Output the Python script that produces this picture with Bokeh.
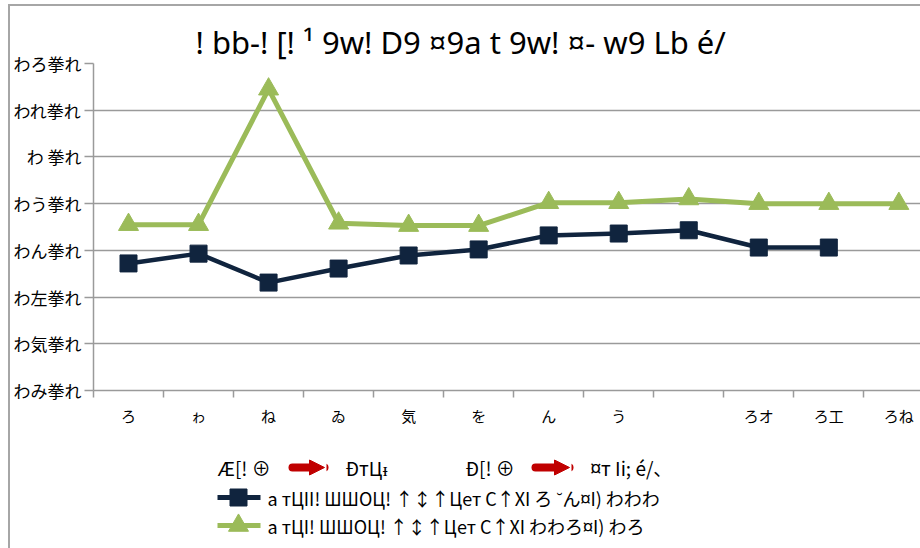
from bokeh.plotting import figure
from bokeh.layouts import column
from bokeh.models import Range1d, FixedTicker, Arrow, NormalHead
from bokeh.core.properties import value
from bokeh.embed import file_html
from bokeh.resources import INLINE

# ---- data -------------------------------------------------------------
months = ["ろ", "ゎ", "ね", "ゐ", "気", "を", "ん", "う", "", "ろオ", "ろ工", "ろね"]
y_tick_values = [0, 1, 2, 3, 4, 5, 6, 7]
y_tick_labels = ["わみ拳れ", "わ気拳れ", "わ左拳れ", "わん拳れ",
                 "わう拳れ", "わ 拳れ", "われ拳れ", "わろ拳れ"]
series_navy = [2.72, 2.93, 2.31, 2.61, 2.89, 3.02, 3.32, 3.36, 3.43, 3.06, 3.06, float("nan")]
series_green = [3.55, 3.55, 6.45, 3.58, 3.53, 3.53, 4.02, 4.02, 4.10, 4.00, 4.00, 4.00]

title_text = "! bb-! [! ¹ 9w! D9 ¤9a t 9w! ¤- w9 Lb é/"
legend_row1 = ["Æ[! ⊕", "ÐтЦᵻ", "Ð[! ⊕", "¤т Ii; é/、"]
legend_navy = "a тЦII! ШШOЦ! ↑↕↑Цет C↑XI ろ ˘ん¤I) わわわ"
legend_green = "a тЦI! ШШOЦ! ↑↕↑Цет C↑XI わわろ¤I) わろ"

# ---- styling ----------------------------------------------------------
NAVY = "#10243e"
GREEN = "#9bbb59"
RED = "#c00000"
GRID = "#9a9a9a"
BORDER = "#a6a6a6"
FONT = "Noto Sans CJK JP"

OX, OY = 10, 6            # inner corner of the chart border
CHART_W, CHART_H = 910, 434
LEFT, TOP, BOTTOM = 83, 57, 50
CAT_W = 70.03

x_pos = [i + 0.5 for i in range(len(months))]

# ---- chart ------------------------------------------------------------
p = figure(width=CHART_W, height=CHART_H, output_backend="svg", toolbar_location=None,
           x_range=Range1d(0, (CHART_W - LEFT) / CAT_W), y_range=Range1d(0, 7),
           min_border_left=LEFT, min_border_right=0,
           min_border_top=TOP, min_border_bottom=BOTTOM)
p.frame_align = False
p.outline_line_color = None
p.background_fill_color = "white"
p.border_fill_color = "white"

p.title.text = title_text
p.title.align = "left"
p.title.offset = 102
p.title.standoff = 2
p.title.text_font = "Noto Sans"
p.title.text_font_size = "31px"
p.title.text_font_style = "normal"
p.title.text_color = "black"

# x axis: labels centred in each category, tick marks on the boundaries
p.xaxis.ticker = FixedTicker(ticks=x_pos, minor_ticks=list(range(0, 12)))
p.xaxis.major_label_overrides = {x: m for x, m in zip(x_pos, months)}
p.xaxis.major_tick_line_color = None
p.xaxis.major_tick_out = 0
p.xaxis.major_tick_in = 0
p.xaxis.minor_tick_line_color = GRID
p.xaxis.minor_tick_line_width = 1.5
p.xaxis.minor_tick_out = 7
p.xaxis.minor_tick_in = 0
p.xaxis.axis_line_color = GRID
p.xaxis.axis_line_width = 1.5
p.xaxis.major_label_standoff = 7
p.xaxis.major_label_text_font = FONT
p.xaxis.major_label_text_font_size = "15px"
p.xaxis.major_label_text_color = "black"

# y axis
p.yaxis.ticker = FixedTicker(ticks=y_tick_values)
p.yaxis.major_label_overrides = {v: t for v, t in zip(y_tick_values, y_tick_labels)}
p.yaxis.axis_line_color = GRID
p.yaxis.axis_line_width = 1.5
p.yaxis.major_tick_line_color = GRID
p.yaxis.major_tick_line_width = 1.5
p.yaxis.major_tick_out = 9
p.yaxis.major_tick_in = 0
p.yaxis.minor_tick_line_color = None
p.yaxis.major_label_standoff = 3
p.yaxis.major_label_text_font = FONT
p.yaxis.major_label_text_font_size = "17px"
p.yaxis.major_label_text_color = "black"

p.xgrid.visible = False
p.ygrid.ticker = FixedTicker(ticks=y_tick_values)
p.ygrid.grid_line_color = GRID
p.ygrid.grid_line_width = 1.5

# series
p.line(x_pos, series_green, line_color=GREEN, line_width=5)
p.scatter(x_pos, series_green, marker="triangle", size=20,
          fill_color=GREEN, line_color=GREEN)
p.line(x_pos, series_navy, line_color=NAVY, line_width=4.5)
p.scatter(x_pos, series_navy, marker="square", size=17,
          fill_color=NAVY, line_color=NAVY)

# ---- legend strip (page pixel coordinates, y grows downward) ----------
LEG_TOP = OY + CHART_H
LEG_H = 548 - LEG_TOP
q = figure(width=CHART_W, height=LEG_H, output_backend="svg", toolbar_location=None,
           x_range=Range1d(OX, OX + CHART_W), y_range=Range1d(548, LEG_TOP),
           min_border=0, x_axis_type=None, y_axis_type=None)
q.frame_align = False
q.outline_line_color = None
q.xgrid.visible = False
q.ygrid.visible = False
q.background_fill_color = "white"
q.border_fill_color = "white"

ROW1, ROW2, ROW3 = 467, 497, 525

# row 1: texts with red arrows between them
q.text(x=[217, 345, 465, 590], y=[ROW1] * 4, text=legend_row1,
       text_font=value(FONT), text_font_size=value("19px"),
       text_baseline="middle", text_align="left", text_color="black")
for x0, x1 in [(292, 333), (535, 578)]:
    q.add_layout(Arrow(x_start=x0, y_start=ROW1, x_end=x1 - 9, y_end=ROW1,
                       line_color=RED, line_width=8, line_cap="round",
                       end=NormalHead(size=15, fill_color=RED, line_color=RED)))

# rows 2 and 3: series keys
q.segment(x0=[217, 217], y0=[ROW2, ROW3], x1=[260, 260], y1=[ROW2, ROW3],
          line_color=[NAVY, GREEN], line_width=5)
q.scatter([238], [ROW2], marker="square", size=17, fill_color=NAVY, line_color=NAVY)
q.scatter([238], [ROW3], marker="triangle", size=20, fill_color=GREEN, line_color=GREEN)
q.text(x=[267, 267], y=[ROW2, ROW3], text=[legend_navy, legend_green],
       text_font=value(FONT), text_font_size=value("18px"),
       text_baseline="middle", text_align="left", text_color="black")

layout = column(p, q, spacing=0, margin=(4, 0, 0, 8),
                styles={"border-left": f"2px solid {BORDER}",
                        "border-top": f"2px solid {BORDER}"})

open("out.html", "w").write(file_html(layout, INLINE))
